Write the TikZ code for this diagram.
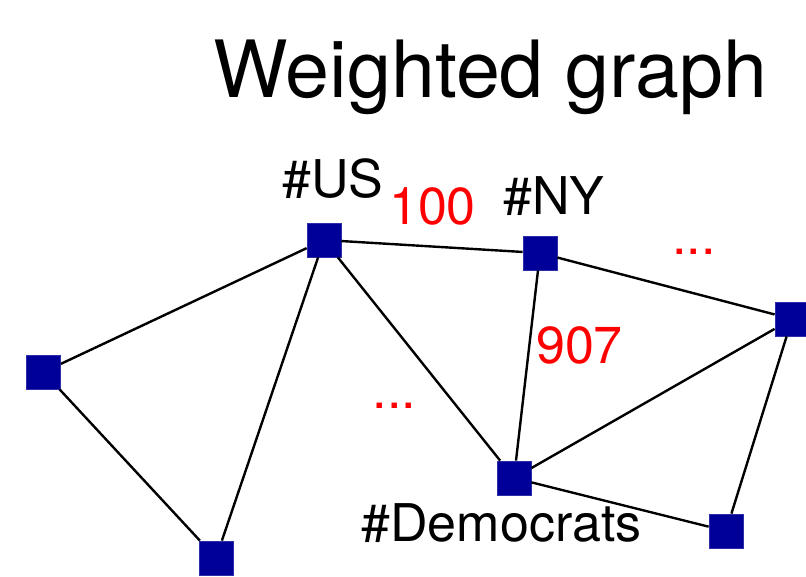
\documentclass[tikz,border=0pt]{standalone}
\usepackage{fontspec}
\setmainfont{TeX Gyre Heros}
\definecolor{nodeblue}{RGB}{0,0,153}
\definecolor{nodeedge}{RGB}{45,45,170}
\definecolor{wred}{RGB}{255,0,0}
\begin{document}
\begin{tikzpicture}[x=1pt,y=-1pt,
  vert/.style={rectangle,minimum size=34pt,inner sep=0pt,fill=nodeblue,draw=nodeedge,line width=0.8pt},
  edge/.style={line width=2.4pt,black},
  lab/.style={anchor=base,inner sep=0pt,font=\fontsize{52}{60}\selectfont},
  wlab/.style={lab,text=wred},
  title/.style={anchor=base,inner sep=0pt,font=\fontsize{79}{90}\selectfont}]
\useasboundingbox (0,0) rectangle (806,577);
\node[title] (t) at (490.5,98) {Weighted graph};
% vertices
\node[vert] (us) at (324,240) {};
\node[vert] (ny) at (540,253) {};
\node[vert] (l) at (43.5,372) {};
\node[vert] (bl) at (216,558) {};
\node[vert] (dem) at (514,478) {};
\node[vert] (r) at (792,319) {};
\node[vert] (br) at (726,531) {};
% edges
\draw[edge] (us) -- (ny);
\draw[edge] (us) -- (l);
\draw[edge] (us) -- (bl);
\draw[edge] (us) -- (dem);
\draw[edge] (ny) -- (r);
\draw[edge] (ny) -- (dem);
\draw[edge] (l) -- (bl);
\draw[edge] (dem) -- (r);
\draw[edge] (dem) -- (br);
\draw[edge] (r) -- (br);
% labels
\node[lab] (lus) at (333,198) {\#US};
\node[lab] (lny) at (554,215) {\#NY};
\node[lab] (ldem) at (501.5,541) {\#Democrats};
\node[wlab] (w100) at (432.5,225) {100};
\node[wlab] (w907) at (579.5,363) {907};
\node[wlab] (d1) at (394.5,408) {...};
\node[wlab] (d2) at (694,255) {...};
\end{tikzpicture}
\end{document}
